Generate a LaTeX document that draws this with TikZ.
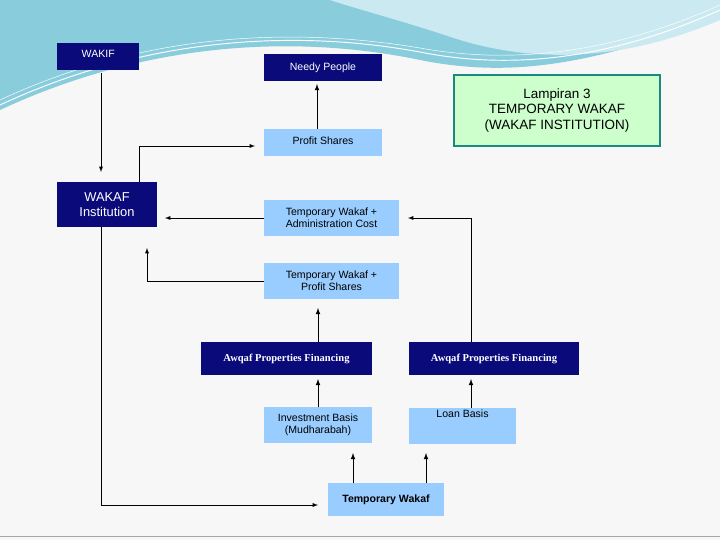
\documentclass[tikz,border=0pt]{standalone}
\usepackage{fontspec}
\setmainfont{Liberation Sans}
\newfontfamily\serifbf{Liberation Serif}
\usetikzlibrary{arrows}
\definecolor{navy}{HTML}{0A0A7A}
\definecolor{lightblu}{HTML}{99CCFF}
\definecolor{mint}{HTML}{CCFFCC}
\definecolor{tealb}{HTML}{1A8A80}
\definecolor{sky}{HTML}{6CC0D4}
\begin{document}
\begin{tikzpicture}[x=0.03cm,y=-0.03cm,
  dark/.style={rectangle,fill=navy,text=white,inner sep=1pt,font=\fontsize{9}{10.5}\selectfont},
  pale/.style={rectangle,fill=lightblu,text=black,inner sep=1pt,align=center,font=\fontsize{9}{10.5}\selectfont},
  link/.style={semithick,-latex}]
\useasboundingbox (0,0) rectangle (720,540);
\fill[gray!6] (0,0) rectangle (720,540);
% header wave
\fill[sky!80] (0,0) -- (720,0) -- (720,18) .. controls (600,60) and (520,80) .. (420,60)
  .. controls (300,35) and (150,40) .. (0,110) -- cycle;
\fill[sky!35] (330,0) -- (720,0) -- (720,20) .. controls (650,50) and (560,70) .. (460,40)
  .. controls (400,20) and (360,10) .. (330,0);
\draw[white,thick] (0,105) .. controls (150,35) and (300,30) .. (420,52) .. controls (520,72) and (620,55) .. (720,10);
\draw[white] (0,100) .. controls (150,30) and (300,28) .. (420,48) .. controls (520,66) and (620,50) .. (720,5);
\draw[gray!70,thick] (0,536) -- (720,536);

\node[dark,minimum width=82*0.03cm,minimum height=27*0.03cm,anchor=north west,align=center] (wakif) at (57,43) {\raisebox{1.2ex}{WAKIF}};
\node[dark,minimum width=118*0.03cm,minimum height=27*0.03cm] (needy) at (323,67.5) {Needy People};
\node[pale,minimum width=118*0.03cm,minimum height=27*0.03cm] (profit) at (323,142.5) {\raisebox{0.6ex}{Profit Shares}};
\node[rectangle,fill=mint,draw=tealb,line width=2.5pt,minimum width=206*0.03cm,minimum height=71*0.03cm,align=center,font=\fontsize{11.5}{13.5}\selectfont] (title) at (557,110.5) {Lampiran 3\\TEMPORARY WAKAF\\(WAKAF INSTITUTION)};
\node[dark,minimum width=100*0.03cm,minimum height=45*0.03cm,align=center,font=\fontsize{11}{12.5}\selectfont] (inst) at (107,204.5) {WAKAF\\Institution};
\node[pale,minimum width=135*0.03cm,minimum height=36*0.03cm] (admin) at (331.5,218) {Temporary Wakaf +\\Administration Cost};
\node[pale,minimum width=135*0.03cm,minimum height=36*0.03cm] (twprofit) at (331.5,281) {Temporary Wakaf +\\Profit Shares};
\node[dark,minimum width=171*0.03cm,minimum height=33*0.03cm,font=\serifbf\bfseries\fontsize{9}{10}\selectfont] (apfa) at (286.5,358.5) {Awqaf Properties Financing};
\node[dark,minimum width=170*0.03cm,minimum height=33*0.03cm,font=\serifbf\bfseries\fontsize{9}{10}\selectfont] (apfb) at (494,358.5) {Awqaf Properties Financing};
\node[pale,minimum width=108*0.03cm,minimum height=36*0.03cm] (invest) at (318,425) {Investment Basis\\(Mudharabah)};
\node[pale,minimum width=107*0.03cm,minimum height=36*0.03cm,anchor=north] (loan) at (462.5,408) {Loan Basis\\[1.2em]};
\node[pale,minimum width=116*0.03cm,minimum height=33*0.03cm,font=\bfseries\fontsize{9}{10}\selectfont] (tw) at (386,499.5) {Temporary Wakaf};

\coordinate (c1) at (101,227);
\draw[link] (101,73) -- (101,172);
\draw[link,thick] (317,129) -- (317,84);
\draw[link] (139,182) -- (139,146) -- (255,146);
\draw[link] (admin.west) -- (165,218);
\draw[link] (twprofit.west) -- (147,281) -- (147,248);
\draw[link] (471,342) -- (471,218) -- (408,218);
\draw[link,thick] (318,342) -- (318,308);
\draw[link,thick] (318,407) -- (318,379);
\draw[link,thick] (471,408) -- (471,379);
\draw[link,thick] (353,483) -- (353,453);
\draw[link,thick] (426,483) -- (426,453);
\draw[link] (c1) -- (101,505) -- (318,505);
\end{tikzpicture}
\end{document}
